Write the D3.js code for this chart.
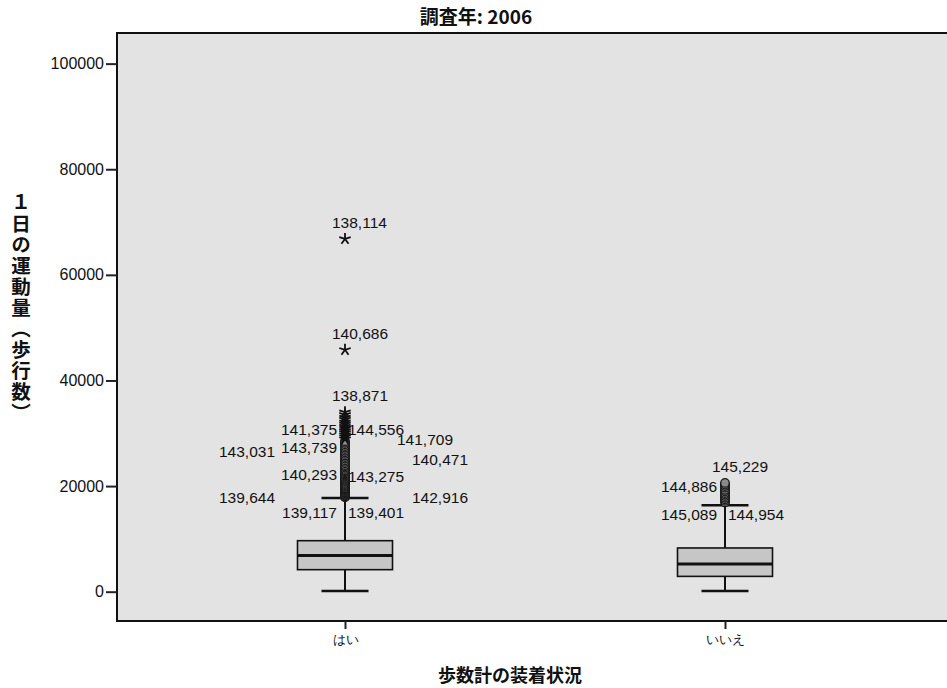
<!DOCTYPE html>
<html>
<head>
<meta charset="utf-8">
<script src="https://cdn.jsdelivr.net/npm/d3@7"></script>
<style>
  body { margin:0; background:#fff; }
  text { font-family:"Liberation Sans", Arial, sans-serif; }
  .cjk { font-family:"Noto Sans CJK JP", sans-serif; }
</style>
</head>
<body>
<div id="chart-area"></div>
<script>
/*
Boxplot - 調査年: 2006
*/

/* Data */
var categories = ["はい", "いいえ"];
var yTicks = [0, 20000, 40000, 60000, 80000, 100000];

// five-number summaries, one entry per category
var lowWhisker = [150, 120];
var q1 = [4170, 2900];
var median = [6870, 5250];
var q3 = [9660, 8280];
var highWhisker = [17750, 16350];

// outliers (circles) and extremes (stars)
var mildOutliers = [
  [17900, 18050, 18200, 18350, 18500, 18650, 18800, 18950, 19100, 19250, 19400,
   19550, 19700, 19850, 20000, 20200, 20400, 20600, 20800, 21000, 21200, 21400,
   21600, 21800, 22000, 22200, 22400, 22600, 22800, 23000, 23250, 23500, 23750,
   24000, 24300, 24600, 24900, 25200, 25500, 25800, 26100, 26400, 26700, 27000,
   27300, 27600, 27900, 28200, 28500],
  [16900, 17200, 17500, 17800, 18100, 18400, 18700, 19000, 19300, 19700, 20000,
   20300, 20600]
];
var extremeOutliers = [
  [28900, 29300, 29700, 30100, 30500, 30900, 31300, 31700, 32100, 32600, 33000,
   33500, 34000, 45800, 66800],
  []
];

// case labels: [category, case id, value]
var labelCases = [
  [0, "138,114", 66800], [0, "140,686", 45800], [0, "138,871", 34000],
  [0, "141,375", 30620], [0, "144,556", 30620], [0, "141,709", 28730],
  [0, "143,031", 26520], [0, "143,739", 27220], [0, "140,471", 24940],
  [0, "140,293", 22100], [0, "143,275", 21780], [0, "139,644", 17750],
  [0, "142,916", 17750], [0, "139,117", 14900], [0, "139,401", 14900],
  [1, "145,229", 20640], [1, "144,886", 19890], [1, "145,089", 14530],
  [1, "144,954", 14530]
];
// which slot round the box each label sits in (0 = above the point)
var labelSlot = [0, 0, 0, -1, 1, 2, -2, -1, 3, -1, 1, -2, 3, -1, 1, 0, -1, -1, 1];


/* Layout */
var W = 947, H = 688;
var plot = { left:117, top:33, right:953, bottom:621 };

var svg = d3.select("#chart-area").append("svg")
  .attr("width", W)
  .attr("height", H);

/* Scales */
var x = d3.scalePoint()
  .domain(categories)
  .range([plot.left, plot.right])
  .padding(0.6);

var y = d3.scaleLinear()
  .domain([-5550, 105800])
  .range([plot.bottom, plot.top]);

var boxW = 95, capW = 47;

/* Plot background */
svg.append("rect")
  .attr("x", plot.left)
  .attr("y", plot.top)
  .attr("width", plot.right - plot.left)
  .attr("height", plot.bottom - plot.top)
  .attr("fill", "#e3e3e3")
  .attr("stroke", "#111")
  .attr("stroke-width", 2);

/* Axes */
var yAxis = svg.append("g")
  .attr("transform", "translate(" + plot.left + ",0)")
  .call(d3.axisLeft(y).tickValues(yTicks).tickSize(11).tickPadding(2).tickFormat(d3.format("d")));
yAxis.select(".domain").remove();
yAxis.selectAll(".tick line").attr("stroke", "#222").attr("stroke-width", 2);
yAxis.selectAll(".tick text")
  .attr("font-size", "16px")
  .attr("fill", "#111")
  .attr("font-family", "Liberation Sans, Arial, sans-serif");

var xAxis = svg.append("g")
  .attr("transform", "translate(0," + plot.bottom + ")")
  .call(d3.axisBottom(x).tickSize(8).tickPadding(6));
xAxis.select(".domain").remove();
xAxis.selectAll(".tick line").attr("stroke", "#222").attr("stroke-width", 2);
xAxis.selectAll(".tick text")
  .attr("font-size", "12.5px")
  .attr("fill", "#111")
  .attr("font-family", "Noto Sans CJK JP, sans-serif");

/* Titles */
svg.append("text")
  .attr("class", "cjk")
  .attr("x", 476)
  .attr("y", 24)
  .attr("text-anchor", "middle")
  .attr("font-size", "19px")
  .attr("font-weight", "bold")
  .attr("fill", "#111")
  .text("調査年: 2006");

svg.append("text")
  .attr("class", "cjk")
  .attr("x", 510)
  .attr("y", 682)
  .attr("text-anchor", "middle")
  .attr("font-size", "18px")
  .attr("font-weight", "bold")
  .attr("fill", "#111")
  .text("歩数計の装着状況");

svg.append("text")
  .attr("class", "cjk")
  .attr("x", 21)
  .attr("y", 308)
  .attr("text-anchor", "middle")
  .attr("writing-mode", "vertical-rl")
  .style("text-orientation", "upright")
  .style("letter-spacing", "1.5px")
  .attr("font-size", "19.5px")
  .attr("font-weight", "bold")
  .attr("fill", "#111")
  .text("１日の運動量（歩行数）");

/* Boxes */
var boxes = svg.append("g");

categories.forEach(function(c, i) {
  var cx = x(c);
  var g = boxes.append("g");

  // whisker line
  g.append("line")
    .attr("x1", cx).attr("x2", cx)
    .attr("y1", y(lowWhisker[i])).attr("y2", y(highWhisker[i]))
    .attr("stroke", "#111").attr("stroke-width", 2);

  // caps
  [lowWhisker[i], highWhisker[i]].forEach(function(v) {
    g.append("line")
      .attr("x1", cx - capW / 2).attr("x2", cx + capW / 2)
      .attr("y1", y(v)).attr("y2", y(v))
      .attr("stroke", "#111").attr("stroke-width", 2.5);
  });

  // box
  g.append("rect")
    .attr("x", cx - boxW / 2)
    .attr("y", y(q3[i]))
    .attr("width", boxW)
    .attr("height", y(q1[i]) - y(q3[i]))
    .attr("fill", "#c6c6c6")
    .attr("stroke", "#111")
    .attr("stroke-width", 1.6);

  // median
  g.append("line")
    .attr("x1", cx - boxW / 2).attr("x2", cx + boxW / 2)
    .attr("y1", y(median[i])).attr("y2", y(median[i]))
    .attr("stroke", "#111").attr("stroke-width", 3);

  // circles
  g.selectAll("circle").data(mildOutliers[i]).enter()
    .append("circle")
      .attr("cx", cx)
      .attr("cy", function(d) { return y(d); })
      .attr("r", 4.3)
      .attr("fill", "#8a8a8a")
      .attr("stroke", "#1a1a1a")
      .attr("stroke-width", 1.3);

  // stars
  var star = "";
  for (var k = 0; k < 5; k++) {
    var a = -Math.PI / 2 + k * 2 * Math.PI / 5;
    star += "M0,0L" + (6 * Math.cos(a)).toFixed(2) + "," + (6 * Math.sin(a)).toFixed(2);
  }
  g.selectAll("path.star").data(extremeOutliers[i]).enter()
    .append("path")
      .attr("class", "star")
      .attr("transform", function(d) { return "translate(" + cx + "," + y(d) + ")"; })
      .attr("d", star)
      .attr("stroke", "#111")
      .attr("stroke-width", 1.8)
      .attr("fill", "none");
});

/* Case labels */
var slotDx = { "-2": -70, "-1": -8, "0": -13, "1": 3, "2": 52, "3": 67 };

svg.append("g").selectAll("text").data(labelCases).enter()
  .append("text")
    .attr("x", function(d, i) { return x(categories[d[0]]) + slotDx[labelSlot[i]]; })
    .attr("y", function(d, i) { return labelSlot[i] === 0 ? y(d[2]) - 11 : y(d[2]) + 5; })
    .attr("text-anchor", function(d, i) { return labelSlot[i] < 0 ? "end" : "start"; })
    .attr("font-size", "15.5px")
    .attr("fill", "#111")
    .text(function(d) { return d[1]; });
</script>
</body>
</html>
